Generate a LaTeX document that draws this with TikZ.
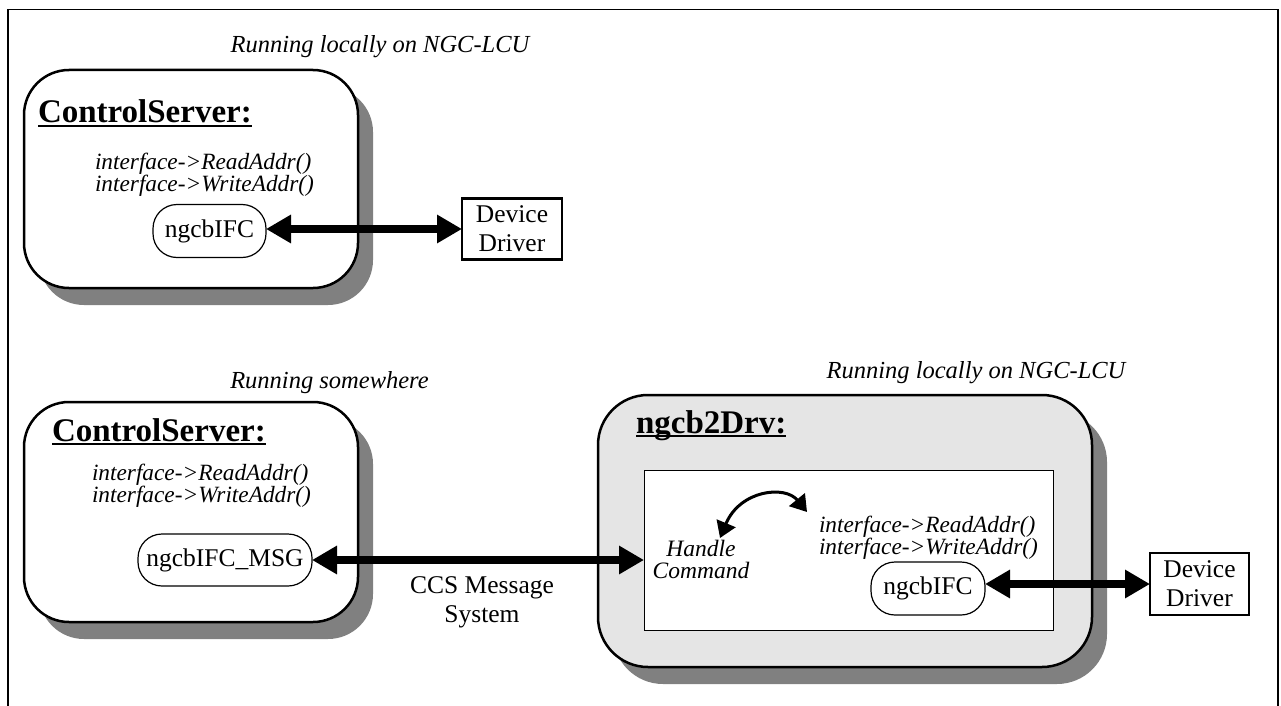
\documentclass[tikz,border=0pt]{standalone}
\usepackage{fontspec}
\setmainfont{Liberation Serif}
\usetikzlibrary{arrows.meta,shadows}
\definecolor{shadowgray}{gray}{0.5}
\definecolor{boxgray}{gray}{0.9}
\newcommand\myit{\fontsize{23.3}{22}\selectfont\itshape}
\newcommand\mycap{\fontsize{24.5}{26}\selectfont\itshape}
\newcommand\myrm{\fontsize{25.5}{29}\selectfont}
\newcommand\mybf{\fontsize{33}{36}\selectfont\bfseries}
\begin{document}
\begin{tikzpicture}[x=1pt,y=-1pt,
  every node/.style={inner sep=0pt, outer sep=0pt},
  procbox/.style={draw, line width=2.5pt, rounded corners=45pt, fill=white,
    drop shadow={shadow xshift=15pt, shadow yshift=-17pt, fill=shadowgray, opacity=1}},
  pill/.style={draw, line width=1.2pt, rounded corners=24pt, fill=white, font=\myrm},
  ddbox/.style={draw, line width=2.5pt, fill=white, align=center, font=\myrm},
  bigarrow/.style={line width=8pt, {Triangle[length=25pt,width=27pt]}-{Triangle[length=25pt,width=27pt]}},
  curvarrow/.style={line width=3pt, {Triangle[length=16pt,width=20pt]}-{Triangle[length=16pt,width=20pt]}},
  uline/.style={line width=1.5pt},
  title/.style={anchor=base west, font=\mybf},
  itline/.style={anchor=base west, font=\myit},
  caption/.style={anchor=base, font=\mycap}
]
\fill[white] (0,0) rectangle (1281,706);
\useasboundingbox (0,0) rectangle (1281,706);
\draw[line width=1.2pt] (8,706) -- (8,9.5) -- (1278,9.5) -- (1278,706);

% ---- top: ControlServer running locally
\node[caption] (run1) at (380,53) {Running locally on NGC-LCU};
\node[procbox, minimum width=334pt, minimum height=218pt] (cs1) at (191,179) {};
\node[title] (cs1t) at (38,123) {ControlServer:};
\draw[uline] ([yshift=-3pt]cs1t.base west) -- ([yshift=-3pt]cs1t.base east);
\node[itline] (cs1a) at (95,169) {interface->ReadAddr()};
\node[itline] (cs1b) at (95,191) {interface->WriteAddr()};
\node[pill, minimum width=113pt, minimum height=53pt] (p1) at (209.5,231) {ngcbIFC};
\node[ddbox, minimum width=100pt, minimum height=61pt] (dd1) at (512,229) {Device\\Driver};
\draw[bigarrow] (p1.east |- dd1.west) -- (dd1.west);

% ---- bottom left: ControlServer running somewhere
\node[caption] (run2) at (329.5,388) {Running somewhere};
\node[procbox, minimum width=334pt, minimum height=220pt] (cs2) at (191,512) {};
\node[title] (cs2t) at (52,441) {ControlServer:};
\draw[uline] ([yshift=-3pt]cs2t.base west) -- ([yshift=-3pt]cs2t.base east);
\node[itline] (cs2a) at (92,480) {interface->ReadAddr()};
\node[itline] (cs2b) at (92,502) {interface->WriteAddr()};
\node[pill, minimum width=174pt, minimum height=52pt] (p2) at (225,560) {ngcbIFC\_MSG};
\node[font=\myrm, align=center] (ccs) at (482,602) {CCS Message\\System};

% ---- bottom right: ngcb2Drv
\node[caption] (run3) at (976,378) {Running locally on NGC-LCU};
\node[procbox, fill=boxgray, rounded corners=50pt, minimum width=494pt, minimum height=272pt] (drv) at (845,531) {};
\node[title] (drvt) at (636,433) {ngcb2Drv:};
\draw[uline] ([yshift=-3pt]drvt.base west) -- ([yshift=-3pt]drvt.base east);
\node[draw, line width=1pt, fill=white, minimum width=409pt, minimum height=160pt] (inner) at (848.5,550) {};
\node[font={\fontsize{23.5}{21.5}\selectfont\itshape}, align=center] (hc) at (701,559.5) {Handle\\Command};
\coordinate (ca1) at (720,538);
\coordinate (ca2) at (807,512);
\draw[curvarrow] (ca1) .. controls (740,490) and (785,485) .. (ca2);
\node[itline] (drva) at (819,532) {interface->ReadAddr()};
\node[itline] (drvb) at (819,554) {interface->WriteAddr()};
\node[pill, minimum width=114pt, minimum height=53pt] (p3) at (928,588.5) {ngcbIFC};
\node[ddbox, minimum width=99pt, minimum height=62pt] (dd2) at (1199.5,584) {Device\\Driver};
\draw[bigarrow] (p3.east |- dd2.west) -- (dd2.west);

% ---- CCS message arrow
\draw[bigarrow] (p2.east) -- (p2.east -| inner.west);
\end{tikzpicture}
\end{document}
